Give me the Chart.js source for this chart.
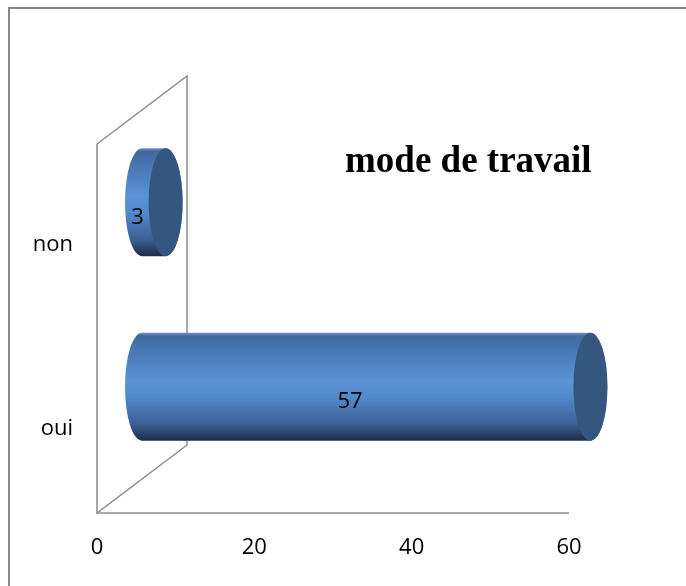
<!DOCTYPE html>
<html>
<head>
<meta charset="utf-8">
<script src="https://cdn.jsdelivr.net/npm/chart.js@4.4.1/dist/chart.umd.min.js"></script>
<style>
  html, body { margin: 0; padding: 0; background: #fff; }
  #wrap { position: relative; width: 686px; height: 586px; }
</style>
</head>
<body>
<div id="wrap"><canvas id="chartModeTravail" width="686" height="586"></canvas></div>
<script>
// donnees du graphique
const categories = ['non', 'oui'];
const valeurs = [3, 57];
const ticksX = [0, 20, 40, 60];
const titre = 'mode de travail';

// profondeur 3D (decalage du mur du fond)
const PROF_X = 90;
const PROF_Y = -68;

const police = '"Open Sans", "Noto Sans", sans-serif';

const cylindres = {
  id: 'cylindres',
  beforeDraw(chart) {
    const ctx = chart.ctx;
    ctx.save();
    ctx.strokeStyle = '#878787';
    ctx.lineWidth = 2;
    ctx.beginPath();
    ctx.moveTo(9, chart.height);
    ctx.lineTo(9, 8);
    ctx.lineTo(chart.width, 8);
    ctx.stroke();
    ctx.restore();
  },
  beforeDatasetsDraw(chart) {
    const { ctx, chartArea } = chart;
    const { left, right, top, bottom } = chartArea;
    ctx.save();
    ctx.strokeStyle = '#8c8c8c';
    ctx.lineWidth = 1.5;
    // mur gauche
    ctx.beginPath();
    ctx.moveTo(left, bottom);
    ctx.lineTo(left, top);
    ctx.lineTo(left + PROF_X, top + PROF_Y);
    ctx.lineTo(left + PROF_X, bottom + PROF_Y);
    ctx.closePath();
    ctx.stroke();
    // sol
    ctx.beginPath();
    ctx.moveTo(left, bottom);
    ctx.lineTo(right, bottom);
    ctx.stroke();
    ctx.restore();
  },
  afterDatasetsDraw(chart) {
    const ctx = chart.ctx;
    const meta = chart.getDatasetMeta(0);
    const dx = PROF_X / 2;
    const dy = PROF_Y / 2;
    meta.data.forEach((bar, i) => {
      const { x, y, base, height } = bar.getProps(['x', 'y', 'base', 'height'], true);
      const x0 = base + dx;
      const x1 = x + dx;
      const cy = y + dy;
      const ry = height / 2;
      const rx = 17;
      const yTop = cy - ry;
      const yBot = cy + ry;

      ctx.save();
      const grad = ctx.createLinearGradient(0, yTop, 0, yBot);
      grad.addColorStop(0, '#6d93c4');
      grad.addColorStop(0.03, '#40699f');
      grad.addColorStop(0.25, '#4d80bf');
      grad.addColorStop(0.45, '#5b93d6');
      grad.addColorStop(0.6, '#5189cb');
      grad.addColorStop(0.85, '#3a5f92');
      grad.addColorStop(1, '#1c2c45');

      // corps du cylindre
      ctx.beginPath();
      ctx.moveTo(x0, yTop);
      ctx.lineTo(x1, yTop);
      ctx.ellipse(x1, cy, rx, ry, 0, -Math.PI / 2, Math.PI / 2, false);
      ctx.lineTo(x0, yBot);
      ctx.ellipse(x0, cy, rx, ry, 0, Math.PI / 2, Math.PI * 1.5, false);
      ctx.closePath();
      ctx.fillStyle = grad;
      ctx.fill();

      // face de bout
      ctx.beginPath();
      ctx.ellipse(x1, cy, rx, ry, 0, 0, Math.PI * 2);
      ctx.fillStyle = '#34567f';
      ctx.fill();

      // etiquette de donnee
      ctx.fillStyle = '#000';
      ctx.font = '22px ' + police;
      ctx.textAlign = 'center';
      ctx.textBaseline = 'middle';
      ctx.fillText(String(valeurs[i]), (x0 + x1) / 2 - 0.4 * dx * 2 / 2 * 0.9, cy + 15);
      ctx.restore();
    });
  },
  afterDraw(chart) {
    const { ctx, chartArea } = chart;
    ctx.save();
    ctx.fillStyle = '#000';
    ctx.font = 'bold 37px "Liberation Serif", "Times New Roman", serif';
    ctx.textAlign = 'left';
    ctx.textBaseline = 'alphabetic';
    ctx.fillText(titre, chartArea.left + 248, chartArea.top + 28);
    ctx.restore();
  }
};

new Chart(document.getElementById('chartModeTravail'), {
  type: 'bar',
  data: {
    labels: categories,
    datasets: [{
      data: valeurs,
      backgroundColor: 'rgba(0,0,0,0)',
      borderWidth: 0,
      categoryPercentage: 1,
      barPercentage: 0.585
    }]
  },
  options: {
    indexAxis: 'y',
    responsive: false,
    animation: false,
    layout: { padding: { left: 0, right: 117, top: 144, bottom: 0 } },
    plugins: {
      legend: { display: false },
      tooltip: { enabled: false },
      title: { display: false }
    },
    scales: {
      x: {
        min: ticksX[0],
        max: ticksX[ticksX.length - 1],
        afterBuildTicks(scale) {
          scale.ticks = ticksX.map(v => ({ value: v }));
        },
        afterFit(scale) {
          scale.height = 73;
        },
        grid: { display: false, drawTicks: false },
        border: { display: false },
        ticks: {
          padding: 22,
          color: '#000',
          font: { family: police, size: 22 }
        }
      },
      y: {
        afterFit(scale) {
          scale.width = 97;
        },
        grid: { display: false, drawTicks: false },
        border: { display: false },
        ticks: {
          padding: 24,
          labelOffset: 8,
          color: '#000',
          font: { family: police, size: 22 }
        }
      }
    }
  },
  plugins: [cylindres]
});
</script>
</body>
</html>
